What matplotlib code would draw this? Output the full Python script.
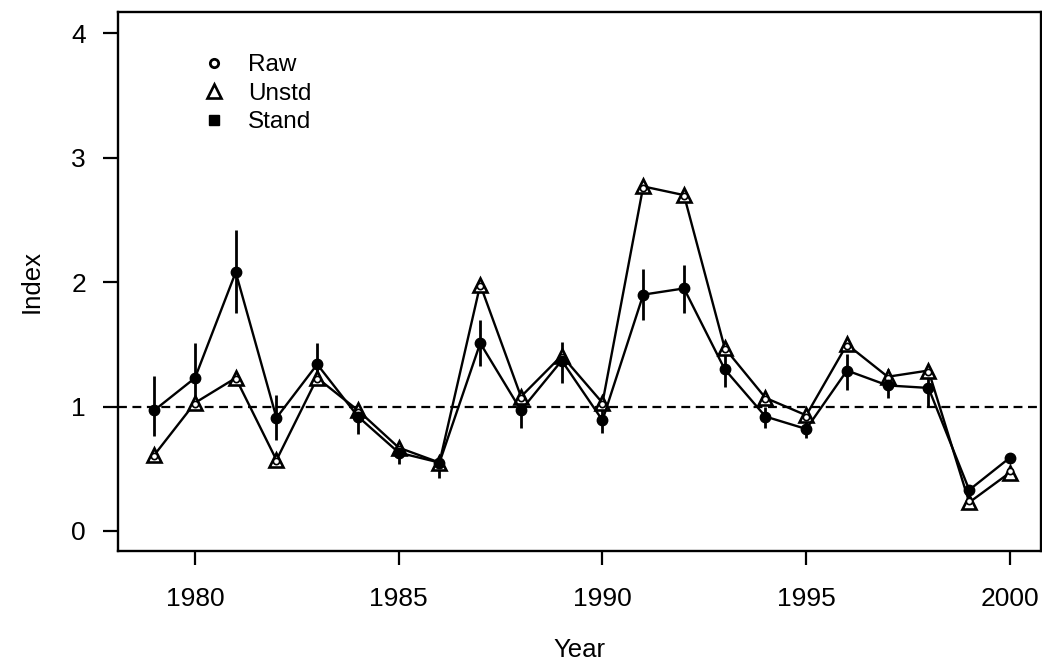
import numpy as np
import matplotlib.pyplot as plt
from matplotlib.lines import Line2D

plt.rcParams['font.family'] = ['Liberation Sans', 'DejaVu Sans']

# indices por año
years = np.arange(1979, 2001)
raw = [0.60, 1.02, 1.22, 0.56, 1.22, 0.96, 0.66, 0.54, 1.97, 1.07, 1.40, 1.02,
       2.76, 2.69, 1.46, 1.06, 0.92, 1.49, 1.23, 1.28, 0.24, 0.48]
unstd = [0.61, 1.03, 1.23, 0.57, 1.23, 0.97, 0.67, 0.55, 1.98, 1.08, 1.41, 1.03,
         2.77, 2.70, 1.47, 1.07, 0.93, 1.50, 1.24, 1.29, 0.23, 0.47]
stand = [0.97, 1.23, 2.08, 0.91, 1.34, 0.92, 0.63, 0.55, 1.51, 0.97, 1.37, 0.89,
         1.90, 1.95, 1.30, 0.92, 0.82, 1.29, 1.17, 1.15, 0.33, 0.59]
# limites de los intervalos del estandarizado
stand_lo = [0.76, 1.03, 1.75, 0.73, 1.17, 0.78, 0.54, 0.43, 1.33, 0.83, 1.19, 0.79,
            1.70, 1.75, 1.16, 0.83, 0.75, 1.13, 1.07, 1.00, 0.29, 0.55]
stand_hi = [1.25, 1.51, 2.42, 1.09, 1.51, 1.00, 0.70, 0.60, 1.70, 1.07, 1.52, 0.98,
            2.11, 2.14, 1.45, 1.00, 0.88, 1.42, 1.30, 1.27, 0.37, 0.63]

fig = plt.figure(figsize=(10.42, 6.71), dpi=100)
ax = fig.add_axes([0.1132, 0.1788, 0.8858, 0.8033])

ax.axhline(1, color='black', lw=1.6, ls=(0, (4, 2.5)), zorder=1)

ax.vlines(years, stand_lo, stand_hi, color='black', lw=2, zorder=2)
ax.plot(years, unstd, color='black', lw=1.7, marker='^', ms=10,
        mfc='white', mec='black', mew=1.9, zorder=3)
ax.plot(years, raw, ls='none', marker='o', ms=4.5, mfc='white',
        mec='black', mew=1.2, zorder=4)
ax.plot(years, stand, color='black', lw=1.7, marker='o', ms=7.5,
        mfc='black', mec='black', zorder=5)

ax.set_xlim(1978.11, 2000.76)
ax.set_ylim(-0.161, 4.172)
ax.set_xticks([1980, 1985, 1990, 1995, 2000])
ax.set_yticks([0, 1, 2, 3, 4])

ax.tick_params(axis='x', length=10, width=1.6, pad=16, labelsize=19)
ax.tick_params(axis='y', length=11, width=1.6, pad=12, labelsize=19)
for s in ax.spines.values():
    s.set_linewidth(1.7)

ax.set_xlabel('Year', fontsize=18.5, labelpad=19)
ax.set_ylabel('Index', fontsize=18.5, labelpad=20)

handles = [
    Line2D([], [], ls='none', marker='o', ms=6, mfc='white', mec='black', mew=2),
    Line2D([], [], ls='none', marker='^', ms=10, mfc='white', mec='black', mew=1.9),
    Line2D([], [], ls='none', marker='s', ms=7, mfc='black', mec='black'),
]
ax.legend(handles, ['Raw', 'Unstd', 'Stand'], loc='upper left',
          bbox_to_anchor=(0.065, 0.962), frameon=False, fontsize=17.5,
          handlelength=1.2, handletextpad=0.78, labelspacing=0.26)

plt.savefig('out.png', dpi=100)
